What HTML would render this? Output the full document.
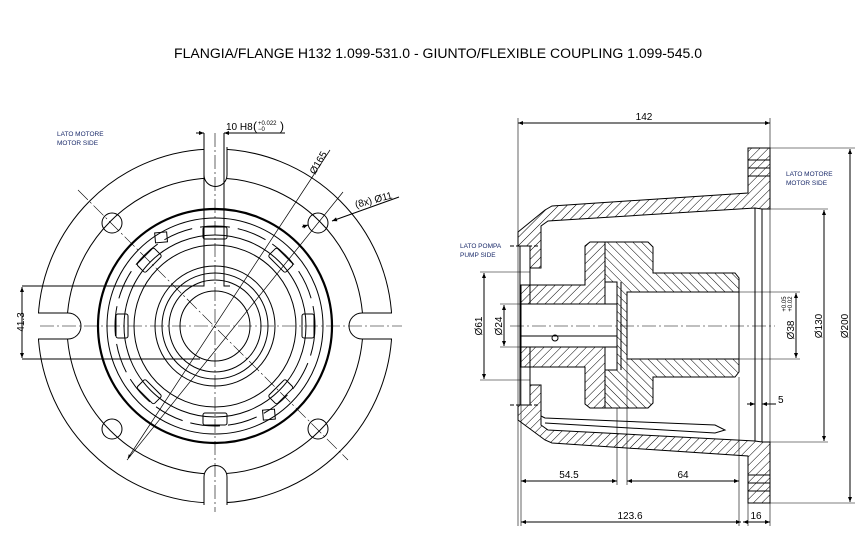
<!DOCTYPE html>
<html><head><meta charset="utf-8"><style>
html,body{margin:0;padding:0;background:#fff}
svg{display:block}
text{font-family:"Liberation Sans",sans-serif}
</style></head><body>
<svg width="864" height="554" viewBox="0 0 864 554" xmlns="http://www.w3.org/2000/svg">
<defs>
<pattern id="h1" width="6" height="6" patternUnits="userSpaceOnUse" patternTransform="rotate(45)"><line x1="0" y1="0" x2="0" y2="6" stroke="#000" stroke-width="1"/></pattern>
<pattern id="h2" width="6" height="6" patternUnits="userSpaceOnUse" patternTransform="rotate(-45)"><line x1="0" y1="0" x2="0" y2="6" stroke="#000" stroke-width="1"/></pattern>
<marker id="a" viewBox="0 0 10 10" refX="10" refY="5" markerWidth="7" markerHeight="5" orient="auto-start-reverse"><path d="M0,1L10,5L0,9z" fill="#000"/></marker>
</defs>
<text x="438" y="58" font-size="13.5" text-anchor="middle" textLength="528" lengthAdjust="spacingAndGlyphs">FLANGIA/FLANGE H132 1.099-531.0 - GIUNTO/FLEXIBLE COUPLING 1.099-545.0</text>

<!-- LEFT VIEW -->
<g fill="none" stroke="#000" stroke-width="1">
<text x="57" y="136" font-size="6.5" fill="#1a2a6a" stroke="none">LATO MOTORE</text>
<text x="57" y="145" font-size="6.5" fill="#1a2a6a" stroke="none">MOTOR SIDE</text>
<circle cx="215" cy="326" r="177"/>
<circle cx="215" cy="326" r="148"/>
<rect x="204" y="140" width="23" height="50" fill="#fff" stroke="none"/>
<rect x="204" y="462" width="23" height="50" fill="#fff" stroke="none"/>
<rect x="30" y="313" width="50" height="26" fill="#fff" stroke="none"/>
<rect x="350" y="313" width="50" height="26" fill="#fff" stroke="none"/>
<path d="M204,147V175A11,11 0 0 0 227,175V147"/>
<path d="M204,505V477A11,11 0 0 1 227,477V505"/>
<path d="M38,313H68A13,13 0 0 1 68,339H38"/>
<path d="M392,313H362A13,13 0 0 0 362,339H392"/>
<g>
<circle cx="112" cy="223" r="10"/><circle cx="318" cy="223" r="10"/>
<circle cx="112" cy="429" r="10"/><circle cx="318" cy="429" r="10"/>
</g>
<circle cx="215" cy="326" r="117" stroke-width="2.2"/>
<circle cx="215" cy="326" r="108"/>
<circle cx="215" cy="326" r="100" stroke-dasharray="30 8"/>
<circle cx="215" cy="326" r="91"/>
<circle cx="215" cy="326" r="81"/>
<circle cx="215" cy="326" r="60"/>
<circle cx="215" cy="326" r="53"/>
<circle cx="215" cy="326" r="46"/>
<circle cx="215" cy="326" r="35"/>
<g transform="translate(215,326)">
<rect x="-12" y="-99" width="24" height="12" rx="2"/>
<rect x="-12" y="87" width="24" height="12" rx="2"/>
<rect x="-99" y="-12" width="12" height="24" rx="2"/>
<rect x="87" y="-12" width="12" height="24" rx="2"/>
<rect x="-12" y="-99" width="24" height="12" rx="2" transform="rotate(45)"/>
<rect x="-12" y="-99" width="24" height="12" rx="2" transform="rotate(-45)"/>
<rect x="-12" y="-99" width="24" height="12" rx="2" transform="rotate(135)"/>
<rect x="-12" y="-99" width="24" height="12" rx="2" transform="rotate(-135)"/>
<rect x="-52" y="-98" width="12" height="10" transform="rotate(-5)"/>
<rect x="40" y="88" width="12" height="10" transform="rotate(-5)"/>
</g>
<path d="M204,133V286H22M224,133V286H230"/>
<path d="M22,359H200"/>
<g stroke-width="0.6" stroke-dasharray="14 3 2 3">
<line x1="40" y1="326" x2="402" y2="326"/>
<line x1="215" y1="133" x2="215" y2="512"/>
<line x1="78" y1="190" x2="348" y2="460"/>
</g>
<line x1="343" y1="192" x2="127" y2="460" stroke-width="0.7"/>
<line x1="128" y1="458" x2="330" y2="150" stroke-width="0.7" marker-start="url(#a)"/>
<line x1="22" y1="287" x2="22" y2="358" marker-start="url(#a)" marker-end="url(#a)"/>
<text transform="translate(24,322) rotate(-90)" x="0" y="0" font-size="10" text-anchor="middle" fill="#000" stroke="none">41.3</text>
<line x1="196" y1="133" x2="204" y2="133" marker-end="url(#a)"/>
<line x1="285" y1="133" x2="224" y2="133" marker-end="url(#a)"/>
<text x="226" y="130" font-size="10" fill="#000" stroke="none">10 H8</text>
<text x="253" y="130" font-size="12" fill="#000" stroke="none">(</text>
<text x="280" y="130" font-size="12" fill="#000" stroke="none">)</text>
<text x="258" y="125" font-size="6" fill="#000" stroke="none">+0.022</text>
<text x="258" y="131" font-size="6" fill="#000" stroke="none">−0</text>
<text transform="translate(315,175) rotate(-60)" font-size="10" fill="#000" stroke="none">Ø165</text>
<line x1="332" y1="221" x2="399" y2="197" marker-start="url(#a)"/>
<line x1="302" y1="227" x2="308" y2="225" marker-end="url(#a)"/>
<text transform="translate(356,208) rotate(-15)" font-size="10" fill="#000" stroke="none">(8x) Ø11</text>
</g>

<!-- RIGHT VIEW -->
<g fill="none" stroke="#000" stroke-width="1">
<path d="M518,232L545,210L552,206L748,193V148H770V209H762L755,208L548,221L541,226V268H530V246L518,246Z" fill="url(#h1)"/>
<path d="M518,420L545,440L552,443L748,456V503H770V442H762L755,441L548,430L541,425V385H530V405L518,405Z" fill="url(#h1)"/>
<path d="M762,209V442M755,208V441"/>
<line x1="748" y1="160" x2="770" y2="160"/><line x1="748" y1="168" x2="770" y2="168"/><line x1="748" y1="176" x2="770" y2="176"/>
<line x1="748" y1="475" x2="770" y2="475"/><line x1="748" y1="483" x2="770" y2="483"/><line x1="748" y1="491" x2="770" y2="491"/>
<path d="M520,246V405M530,268V385"/>
<path d="M541,416L545,418L715,425L725,430L715,433L545,423" fill="#fff"/>
<path d="M521,285H585V246L590,242H605V408H590L585,404V367H521Z" fill="url(#h1)"/>
<rect x="521" y="304" width="96" height="43" fill="#fff"/>
<line x1="521" y1="336" x2="617" y2="336"/>
<circle cx="555" cy="338" r="3"/>
<path d="M605,242H648L653,247V273H735L739,278V372L735,377H653V403L648,408H605V370H617V282H605Z" fill="url(#h2)"/>
<rect x="627" y="292" width="112" height="67" fill="#fff"/>
<path d="M617,282V370M621,282V370"/>
<line x1="510" y1="326" x2="775" y2="326" stroke-width="0.6" stroke-dasharray="14 3 2 3"/>
<line x1="510" y1="246" x2="540" y2="246" stroke-dasharray="4 2"/>
<line x1="510" y1="405" x2="540" y2="405" stroke-dasharray="4 2"/>
<line x1="518" y1="118" x2="518" y2="526" stroke-width="0.6"/>
<line x1="770" y1="118" x2="770" y2="526" stroke-width="0.6"/>
<line x1="518" y1="123" x2="770" y2="123" marker-start="url(#a)" marker-end="url(#a)"/>
<text x="644" y="120" font-size="10" text-anchor="middle" fill="#000" stroke="none">142</text>
<path d="M770,148H855M770,503H855M762,209H828M762,442H828M739,292H800M739,359H800" stroke-width="0.6"/>
<line x1="850" y1="149" x2="850" y2="502" marker-start="url(#a)" marker-end="url(#a)"/>
<text transform="translate(848,326) rotate(-90)" font-size="10" text-anchor="middle" fill="#000" stroke="none">Ø200</text>
<line x1="824" y1="210" x2="824" y2="441" marker-start="url(#a)" marker-end="url(#a)"/>
<text transform="translate(822,326) rotate(-90)" font-size="10" text-anchor="middle" fill="#000" stroke="none">Ø130</text>
<line x1="796" y1="293" x2="796" y2="358" marker-start="url(#a)" marker-end="url(#a)"/>
<text transform="translate(794,330) rotate(-90)" font-size="10" text-anchor="middle" fill="#000" stroke="none">Ø38</text>
<text transform="translate(786,304) rotate(-90)" font-size="6" text-anchor="middle" fill="#000" stroke="none">+0.05</text>
<text transform="translate(792,304) rotate(-90)" font-size="6" text-anchor="middle" fill="#000" stroke="none">+0.02</text>
<path d="M480,272H530M480,380H530M500,304H521M500,347H521" stroke-width="0.6"/>
<line x1="484" y1="273" x2="484" y2="379" marker-start="url(#a)" marker-end="url(#a)"/>
<text transform="translate(482,326) rotate(-90)" font-size="10" text-anchor="middle" fill="#000" stroke="none">Ø61</text>
<line x1="504" y1="305" x2="504" y2="346" marker-start="url(#a)" marker-end="url(#a)"/>
<text transform="translate(502,326) rotate(-90)" font-size="10" text-anchor="middle" fill="#000" stroke="none">Ø24</text>
<path d="M521,367V526M617,408V485M627,359V485M739,377V526M748,503V526" stroke-width="0.6"/>
<line x1="521" y1="481" x2="617" y2="481" marker-start="url(#a)" marker-end="url(#a)"/>
<text x="569" y="478" font-size="10" text-anchor="middle" fill="#000" stroke="none">54.5</text>
<line x1="627" y1="481" x2="739" y2="481" marker-start="url(#a)" marker-end="url(#a)"/>
<text x="683" y="478" font-size="10" text-anchor="middle" fill="#000" stroke="none">64</text>
<line x1="521" y1="522" x2="741" y2="522" marker-start="url(#a)" marker-end="url(#a)"/>
<text x="630" y="519" font-size="10" text-anchor="middle" fill="#000" stroke="none">123.6</text>
<line x1="743" y1="522" x2="770" y2="522" marker-start="url(#a)" marker-end="url(#a)"/>
<text x="756" y="519" font-size="10" text-anchor="middle" fill="#000" stroke="none">16</text>
<line x1="747" y1="404" x2="755" y2="404" marker-end="url(#a)"/>
<line x1="776" y1="404" x2="762" y2="404" marker-end="url(#a)"/>
<text x="778" y="403" font-size="10" fill="#000" stroke="none">5</text>
<text x="786" y="176" font-size="6.5" fill="#1a2a6a" stroke="none">LATO MOTORE</text>
<text x="786" y="185" font-size="6.5" fill="#1a2a6a" stroke="none">MOTOR SIDE</text>
<text x="460" y="248" font-size="6.5" fill="#1a2a6a" stroke="none">LATO POMPA</text>
<text x="460" y="257" font-size="6.5" fill="#1a2a6a" stroke="none">PUMP SIDE</text>
</g>
</svg>
</body></html>
